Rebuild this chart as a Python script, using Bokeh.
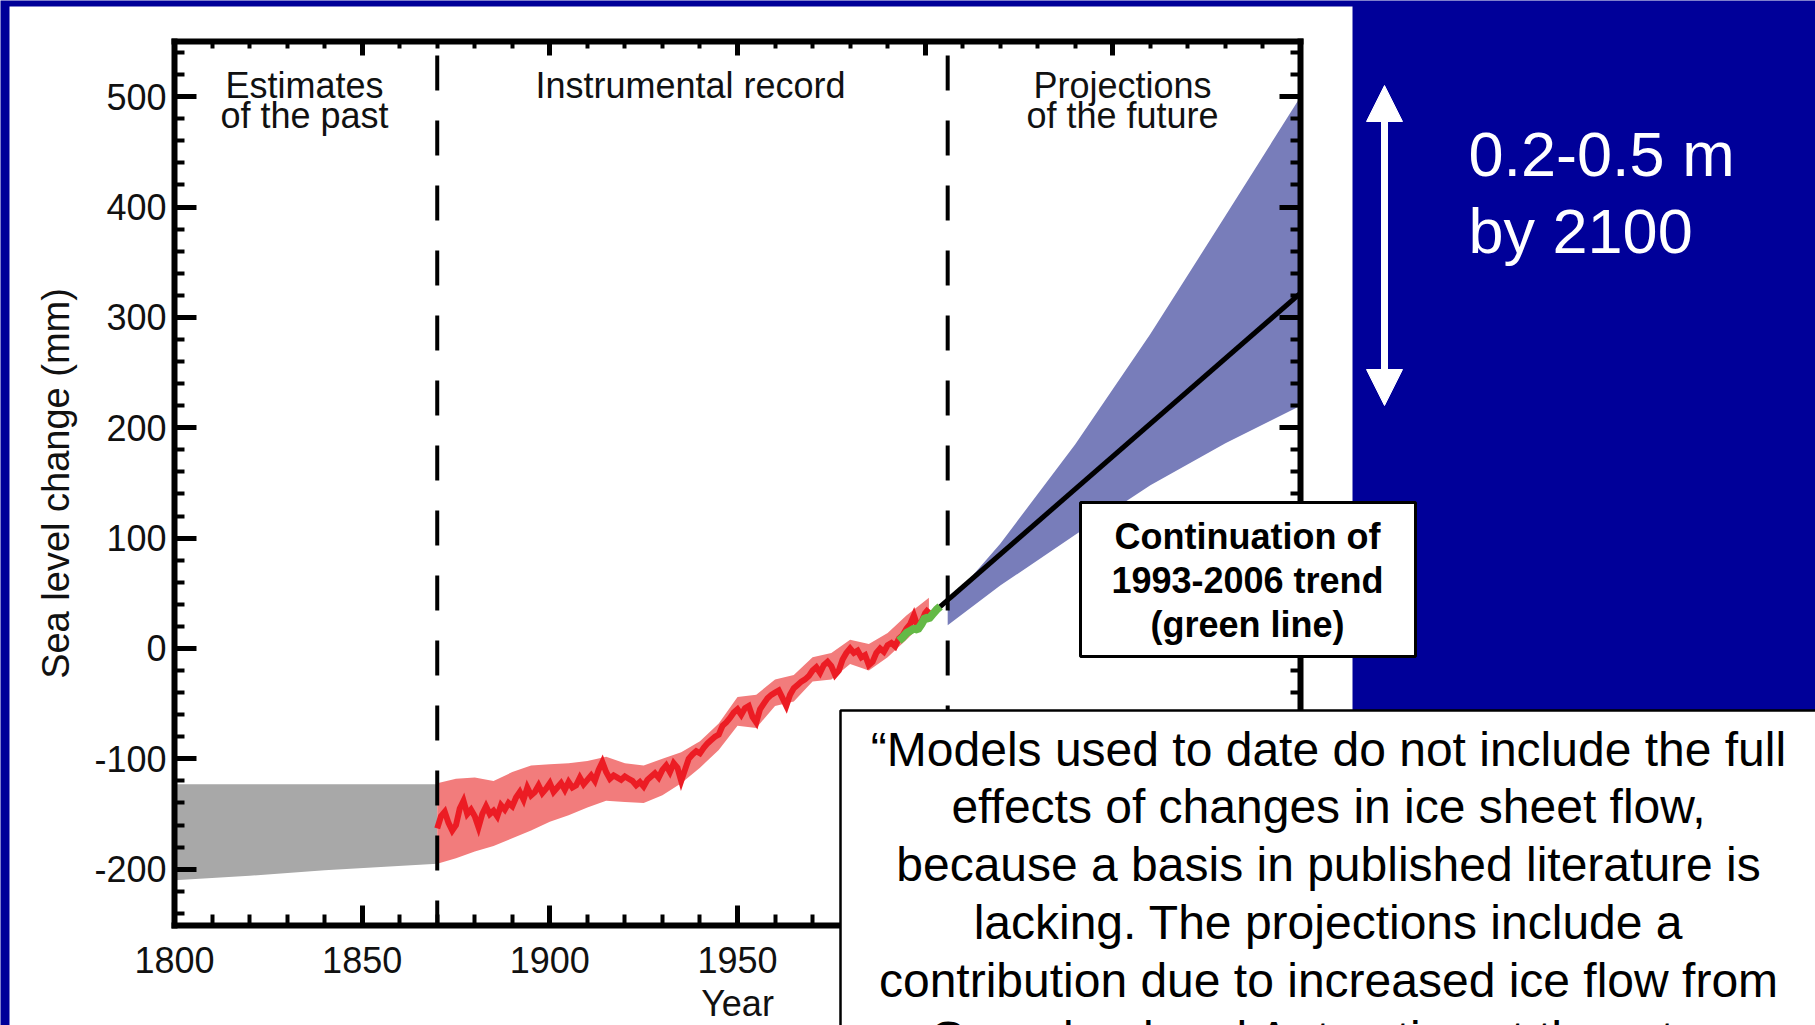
import math
from bokeh.plotting import figure
from bokeh.models import (Range1d, LinearAxis, FixedTicker, BoxAnnotation, Label,
                          Arrow, NormalHead, CustomJSTickFormatter)
from bokeh.embed import file_html
from bokeh.resources import INLINE

# ---------------- data ----------------
past_years = [1800, 1820, 1840, 1855, 1870]
past_upper = [-123, -123, -123, -123, -123]
past_lower = [-210, -206, -201, -198, -195]

tide_years = list(range(1870, 2002))
tide_level = [
    -163, -152, -148, -158, -165, -160, -145, -138, -150, -146,   # 1870s
    -152, -162, -150, -143, -150, -147, -152, -142, -146, -140,   # 1880s
    -143, -135, -130, -137, -126, -133, -130, -124, -131, -127,   # 1890s
    -122, -130, -126, -122, -128, -121, -126, -124, -117, -123,   # 1900s
    -119, -115, -120, -110, -103, -112, -118, -115, -117, -119,   # 1910s
    -116, -118, -120, -124, -121, -125, -119, -116, -113, -117,   # 1920s
    -110, -106, -112, -104, -108, -120, -110, -100, -96, -93,     # 1930s
    -95, -90, -86, -83, -80, -78, -70, -67, -63, -58,             # 1940s
    -55, -60, -54, -52, -62, -67, -55, -50, -45, -42,             # 1950s
    -40, -38, -45, -52, -42, -36, -33, -30, -28, -25,             # 1960s
    -20, -17, -22, -15, -12, -16, -24, -20, -10, -4,              # 1970s
    0, -4, -2, -8, -6, -15, -12, -4, 0, -3,                       # 1980s
    3, 5, 2, 9, 12, 18, 22, 30, 20, 24,                           # 1990s
    32, 36,                                                       # 2000s
]

band_years = [1870, 1875, 1880, 1885, 1890, 1895, 1900, 1905, 1910, 1915, 1920, 1925,
              1930, 1935, 1940, 1945, 1950, 1955, 1960, 1965, 1970, 1975, 1980, 1985,
              1990, 1995, 2001]
band_upper = [-122, -118, -117, -120, -112, -106, -105, -104, -102, -98, -104, -106,
              -100, -94, -84, -68, -44, -42, -28, -24, -8, -4, 8, 4,
              14, 30, 46]
band_lower = [-195, -190, -184, -179, -172, -165, -157, -151, -144, -138, -139, -140,
              -133, -122, -108, -92, -70, -72, -52, -48, -30, -28, -14, -20,
              -8, 8, 28]

sat_years = list(range(1993, 2005))
sat_level = [7, 10, 14, 16, 18, 17, 22, 28, 27, 31, 35, 38]

proj_years = [2006, 2020, 2040, 2060, 2080, 2100]
proj_upper = [40, 95, 185, 285, 392, 500]
proj_lower = [21, 57, 103, 148, 186, 220]

trend_years = [2004, 2100]
trend_level = [38, 322]

divider_years = [1870, 2006]

x_range = (1800, 2100)
y_range = (-251, 550)
x_major_ticks = [1800, 1850, 1900, 1950, 2000, 2050, 2100]
x_minor_ticks = list(range(1800, 2101, 10))
y_major_ticks = [-200, -100, 0, 100, 200, 300, 400, 500]
y_minor_ticks = list(range(-240, 541, 20))

region_titles = [("Estimates", "of the past", 304), ("Instrumental record", None, 690),
                 ("Projections", "of the future", 1122)]
trend_box_lines = ["Continuation of", "1993-2006 trend", "(green line)"]
quote_lines = [
    "\u201cModels used to date do not include the full",
    "effects of changes in ice sheet flow,",
    "because a basis in published literature is",
    "lacking. The projections include a",
    "contribution due to increased ice flow from",
    "Greenland and Antarctica at the rates",
]
side_lines = ["0.2-0.5 m", "by 2100"]

# ---------------- layout helpers ----------------
W, H = 1815, 1025
FL, FR, FT, FB = 174, 1300, 41, 925   # chart box edges (canvas px)
BLUE = "#000099"
FONT = "Liberation Sans"
INK = "#111111"


def xd(px):
    return x_range[0] + (px - FL) * (x_range[1] - x_range[0]) / (FR - FL)


def yd(py):
    return y_range[1] - (py - FT) * (y_range[1] - y_range[0]) / (FB - FT)


p = figure(width=W, height=H, x_range=Range1d(xd(0), xd(W)), y_range=Range1d(yd(H), yd(0)),
           output_backend="svg", toolbar_location=None,
           min_border=0, min_border_left=0, min_border_right=0, min_border_top=0,
           min_border_bottom=0,
           background_fill_color=BLUE, border_fill_color=BLUE, outline_line_color=None,
           x_axis_location=None, y_axis_location=None)
p.xgrid.visible = False
p.ygrid.visible = False

# white slide panel behind the chart
p.add_layout(BoxAnnotation(left=xd(9), right=xd(1352), top=yd(6), bottom=yd(1045),
                           fill_color="white", fill_alpha=1, line_color=None, level="underlay"))

xt = FixedTicker(ticks=x_major_ticks, minor_ticks=x_minor_ticks)
yt = FixedTicker(ticks=y_major_ticks, minor_ticks=y_minor_ticks)
blank = CustomJSTickFormatter(code="return ''")


def style_axis(ax, major_in, minor_in):
    ax.major_tick_in = major_in
    ax.major_tick_out = 0
    ax.minor_tick_in = minor_in
    ax.minor_tick_out = 0
    ax.major_tick_line_width = 5
    ax.minor_tick_line_width = 4
    ax.axis_line_width = 6
    ax.axis_line_cap = "square"
    ax.major_tick_line_color = "black"
    ax.minor_tick_line_color = "black"
    ax.major_label_text_font = FONT
    ax.major_label_text_font_size = "36px"
    ax.major_label_text_color = INK


bottom = LinearAxis(ticker=xt, fixed_location=y_range[0], bounds=x_range,
                    major_label_overrides={2000: "", 2050: "", 2100: ""})
style_axis(bottom, 20, 11)
bottom.major_label_standoff = 21
p.add_layout(bottom, "below")

left = LinearAxis(ticker=yt, fixed_location=x_range[0], bounds=y_range,
                  major_label_overrides={-100: "-100", -200: "-200"})
style_axis(left, 22, 10)
left.major_label_standoff = 8
p.add_layout(left, "left")

top = LinearAxis(ticker=xt, fixed_location=y_range[1], bounds=x_range, formatter=blank)
style_axis(top, 14, 7)
p.add_layout(top, "above")

right = LinearAxis(ticker=yt, fixed_location=x_range[1], bounds=y_range, formatter=blank)
style_axis(right, 21, 10)
p.add_layout(right, "right")

# ---------------- data glyphs ----------------
p.varea(x=past_years, y1=past_lower, y2=past_upper, fill_color="#A8A8A8")
p.varea(x=band_years, y1=band_lower, y2=band_upper, fill_color="#F27C7C")
p.varea(x=proj_years, y1=proj_lower, y2=proj_upper, fill_color="#787DBA")
p.line(tide_years, tide_level, line_color="#EC1C24", line_width=6, line_join="miter")
p.line(sat_years, sat_level, line_color="#64B946", line_width=8)
p.line(trend_years, trend_level, line_color="black", line_width=5)
for yr in divider_years:
    p.line([yr, yr], [y_range[1], y_range[0]], line_color="black", line_width=4,
           line_dash="35 30", line_dash_offset=51)


# ---------------- text helper ----------------
def lab(x_px, base_px, text, fs, align="center", color=INK, style="normal", angle=0.0):
    shift = 0.3 * fs
    if angle:
        x = xd(x_px - shift)
        y = yd(base_px)
    else:
        x = xd(x_px)
        y = yd(base_px - shift)
    p.add_layout(Label(x=x, y=y, text=text, text_align=align, text_baseline="alphabetic",
                       text_font=FONT, text_font_size=f"{fs}px", text_font_style=style,
                       text_color=color, angle=angle))


for t1, t2, cx in region_titles:
    lab(cx, 96, t1, 36)
    if t2:
        lab(cx, 126, t2, 36)

lab(737, 1014, "Year", 36)
lab(67, 483, "Sea level change (mm)", 38, angle=math.pi / 2)

# ---------------- boxes ----------------
p.add_layout(BoxAnnotation(left=xd(1080), right=xd(1415), top=yd(502), bottom=yd(656),
                           fill_color="white", fill_alpha=1, line_color="black", line_width=3,
                           line_alpha=1))
for i, line in enumerate(trend_box_lines):
    lab(1247, 547 + 44 * i, line, 36, color="black", style="bold")

p.add_layout(BoxAnnotation(left=xd(840), right=xd(1850), top=yd(710), bottom=yd(1060),
                           fill_color="white", fill_alpha=1, line_color="black", line_width=2.5,
                           line_alpha=1))
for i, line in enumerate(quote_lines):
    lab(1328, 763 + 57.8 * i, line, 48, color="black")

# ---------------- right-hand annotation ----------------
p.add_layout(Arrow(x_start=xd(1384), y_start=yd(405), x_end=xd(1384), y_end=yd(85),
                   start=NormalHead(size=36, fill_color="white", line_color="white"),
                   end=NormalHead(size=36, fill_color="white", line_color="white"),
                   line_color="white", line_width=7))
for i, line in enumerate(side_lines):
    lab(1468, 172 + 77 * i, line, 63, align="left", color="white")

open("out.html", "w").write(file_html(p, INLINE))
